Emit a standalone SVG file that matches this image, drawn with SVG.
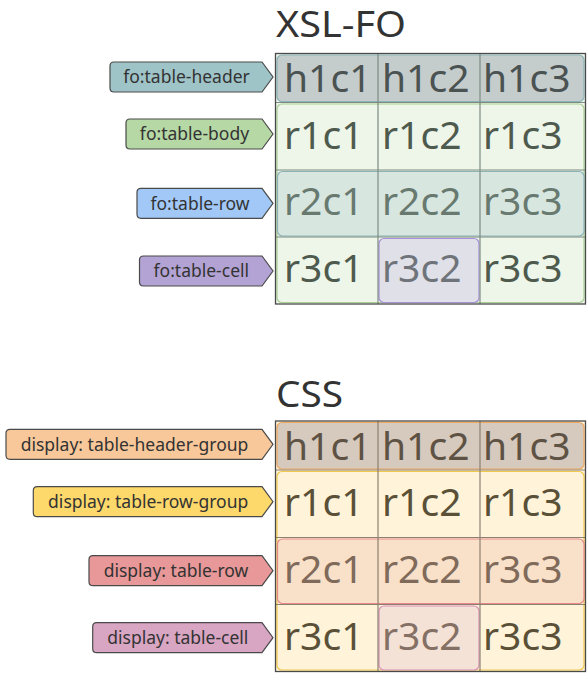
<svg xmlns="http://www.w3.org/2000/svg" width="588" height="677" viewBox="0 0 588 677">
<style>
text{font-family:"Noto Sans","Open Sans","DejaVu Sans",sans-serif}
.title{font-size:36px;fill:#333}
.lbl{stroke:#4a4a4a;stroke-width:1.2}
.lt{font-size:17.5px;fill:#333;text-anchor:middle}
.c{font-size:39px}
.frame{fill:none;stroke:#4a4a4a;stroke-width:1.3}
.gx{stroke:#7d8c82;stroke-width:1.2}
.gc{stroke:#8c8070;stroke-width:1.2}
</style>
<rect width="588" height="677" fill="#fff"/>
<text class="title" x="276" y="37" textLength="130" lengthAdjust="spacingAndGlyphs">XSL-FO</text>
<text class="title" x="276" y="407" textLength="67" lengthAdjust="spacingAndGlyphs">CSS</text>

<g id="xslfo-table">
<rect x="275.5" y="53.5" width="310" height="250.5" fill="#eef5e9"/>
<rect x="277" y="104" width="307" height="198.5" rx="5" fill="#eef5e9" stroke="#a8d096" stroke-width="1.2"/>
<rect x="277" y="55" width="307" height="46.5" rx="5" fill="#c4cccc" stroke="#8ab4b8" stroke-width="1.2"/>
<rect x="277.5" y="171.5" width="306.5" height="64.5" rx="5" fill="#d8e6e0" stroke="#8ab4b8" stroke-width="1.2"/>
<rect x="379" y="238.5" width="100" height="64" rx="5" fill="#dfe0e8" stroke="#a890d8" stroke-width="1.2"/>
<g class="gx">
<line x1="275.5" y1="102.5" x2="585.5" y2="102.5"/>
<line x1="275.5" y1="170" x2="585.5" y2="170"/>
<line x1="275.5" y1="237" x2="585.5" y2="237"/>
<line x1="378" y1="53.5" x2="378" y2="304"/>
<line x1="480" y1="53.5" x2="480" y2="304"/>
</g>
<rect class="frame" x="275.5" y="53.5" width="310" height="250.5"/>
<g class="c">
<text x="284" y="92" fill="#4a5252">h1c1</text><text x="382" y="92" fill="#4a5252">h1c2</text><text x="483" y="92" fill="#4a5252">h1c3</text>
<text x="284" y="148.5" fill="#4d5a4d">r1c1</text><text x="382" y="148.5" fill="#4d5a4d">r1c2</text><text x="483" y="148.5" fill="#4d5a4d">r1c3</text>
<text x="284" y="215" fill="#687a70">r2c1</text><text x="382" y="215" fill="#687a70">r2c2</text><text x="483" y="215" fill="#687a70">r3c3</text>
<text x="284" y="282" fill="#4d5a4d">r3c1</text><text x="382" y="282" fill="#6f747a">r3c2</text><text x="483" y="282" fill="#4d5a4d">r3c3</text>
</g>
</g>

<g id="css-table">
<rect x="275.5" y="421" width="310" height="250.5" fill="#fff4da"/>
<rect x="277" y="471.5" width="307" height="198.5" rx="5" fill="#fff4da" stroke="#f2c84a" stroke-width="1.2"/>
<rect x="277" y="422.5" width="307" height="46.5" rx="5" fill="#d6c9bd" stroke="#f0a860" stroke-width="1.2"/>
<rect x="277.5" y="539" width="306.5" height="64.5" rx="5" fill="#f8e0c9" stroke="#e8888a" stroke-width="1.2"/>
<rect x="379" y="606" width="100" height="64" rx="5" fill="#f5e2d6" stroke="#d890b8" stroke-width="1.2"/>
<g class="gc">
<line x1="275.5" y1="470" x2="585.5" y2="470"/>
<line x1="275.5" y1="537.5" x2="585.5" y2="537.5"/>
<line x1="275.5" y1="604.5" x2="585.5" y2="604.5"/>
<line x1="378" y1="421" x2="378" y2="671.5"/>
<line x1="480" y1="421" x2="480" y2="671.5"/>
</g>
<rect class="frame" x="275.5" y="421" width="310" height="250.5"/>
<g class="c">
<text x="284" y="459.5" fill="#5e5244">h1c1</text><text x="382" y="459.5" fill="#5e5244">h1c2</text><text x="483" y="459.5" fill="#5e5244">h1c3</text>
<text x="284" y="516" fill="#5a5038">r1c1</text><text x="382" y="516" fill="#5a5038">r1c2</text><text x="483" y="516" fill="#5a5038">r1c3</text>
<text x="284" y="582.5" fill="#806a5a">r2c1</text><text x="382" y="582.5" fill="#806a5a">r2c2</text><text x="483" y="582.5" fill="#806a5a">r3c3</text>
<text x="284" y="649.5" fill="#5a5038">r3c1</text><text x="382" y="649.5" fill="#857065">r3c2</text><text x="483" y="649.5" fill="#5a5038">r3c3</text>
</g>
</g>

<g id="lbl-fo-table-header">
<path class="lbl" fill="#9fc4c8" d="M114,62 H262 L273,77 L262,92 H114 Q110,92 110,88 V66 Q110,62 114,62 Z"/>
<text class="lt" x="186.5" y="83.2">fo:table-header</text>
</g>
<g id="lbl-fo-table-body">
<path class="lbl" fill="#b5d8a5" d="M130,119 H262 L273,134 L262,149 H130 Q126,149 126,145 V123 Q126,119 130,119 Z"/>
<text class="lt" x="194.5" y="140.2">fo:table-body</text>
</g>
<g id="lbl-fo-table-row">
<path class="lbl" fill="#a2c8f7" d="M141,188.3 H262 L273,203.3 L262,218.3 H141 Q137,218.3 137,214.3 V192.3 Q137,188.3 141,188.3 Z"/>
<text class="lt" x="200" y="209.5">fo:table-row</text>
</g>
<g id="lbl-fo-table-cell">
<path class="lbl" fill="#b3a3d5" d="M143.5,256 H262 L273,271 L262,286 H143.5 Q139.5,286 139.5,282 V260 Q139.5,256 143.5,256 Z"/>
<text class="lt" x="201.3" y="277.2">fo:table-cell</text>
</g>

<g id="lbl-css-table-header-group">
<path class="lbl" fill="#f8c89a" d="M10,429.3 H262 L273,444.3 L262,459.3 H10 Q6,459.3 6,455.3 V433.3 Q6,429.3 10,429.3 Z"/>
<text class="lt" x="134.5" y="450.5">display: table-header-group</text>
</g>
<g id="lbl-css-table-row-group">
<path class="lbl" fill="#fdd86a" d="M37.3,486.7 H262 L273,501.7 L262,516.7 H37.3 Q33.3,516.7 33.3,512.7 V490.7 Q33.3,486.7 37.3,486.7 Z"/>
<text class="lt" x="148.2" y="507.9">display: table-row-group</text>
</g>
<g id="lbl-css-table-row">
<path class="lbl" fill="#e89898" d="M93,555.7 H262 L273,570.7 L262,585.7 H93 Q89,585.7 89,581.7 V559.7 Q89,555.7 93,555.7 Z"/>
<text class="lt" x="176" y="576.9">display: table-row</text>
</g>
<g id="lbl-css-table-cell">
<path class="lbl" fill="#d8a5c2" d="M96.7,622.7 H262 L273,637.7 L262,652.7 H96.7 Q92.7,652.7 92.7,648.7 V626.7 Q92.7,622.7 96.7,622.7 Z"/>
<text class="lt" x="177.8" y="643.9">display: table-cell</text>
</g>
<g id="connectors"/>
</svg>
